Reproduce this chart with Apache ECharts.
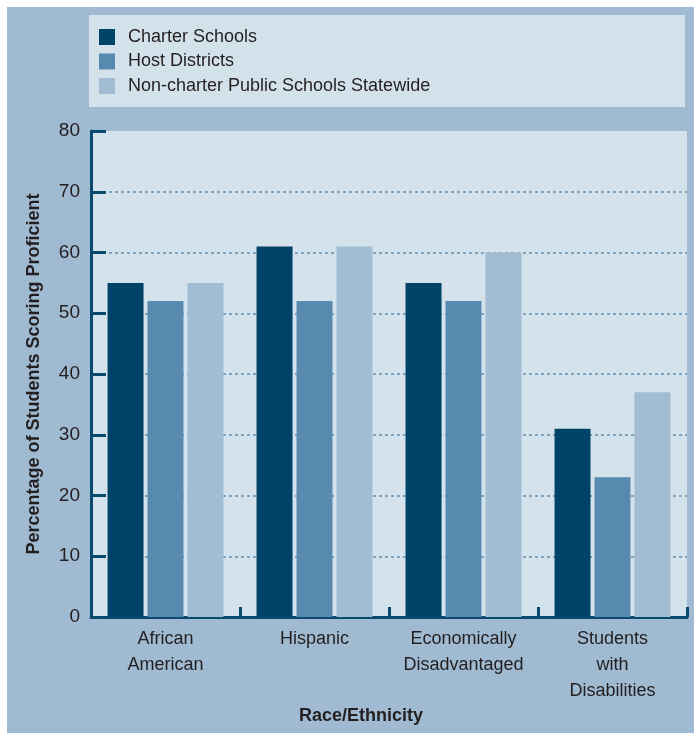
<!DOCTYPE html>
<html>
<head>
<meta charset="utf-8">
<style>
  html, body { margin: 0; padding: 0; background: #ffffff; }
  #main { width: 694px; height: 733px; }
</style>
<script src="https://cdn.jsdelivr.net/npm/echarts@6/dist/echarts.min.js"></script>
</head>
<body>
<div id="main"></div>
<script>
// data
var categories = ['African\nAmerican', 'Hispanic', 'Economically\nDisadvantaged', 'Students\nwith\nDisabilities'];
var charterSchools = [55, 61, 55, 31];
var hostDistricts = [52, 52, 52, 23];
var nonCharterStatewide = [55, 61, 60, 37];
var seriesNames = ['Charter Schools', 'Host Districts', 'Non-charter Public Schools Statewide'];

var FONT = '"Liberation Sans", Arial, sans-serif';
var AXIS_BLUE = '#0b4a6f';

var myChart = echarts.init(document.getElementById('main'));
var option = {
    backgroundColor: '#ffffff',
    color: ['#004369', '#578aae', '#a1bcd3'],
    textStyle: { fontFamily: FONT },
    graphic: [
        {   // outer panel
            type: 'rect', z: -10, silent: true,
            shape: { x: 7, y: 7, width: 687, height: 726 },
            style: { fill: '#9fbad1' }
        },
        {   // legend box
            type: 'rect', z: -9, silent: true,
            shape: { x: 89, y: 15, width: 596, height: 92 },
            style: { fill: '#d3e1ea' }
        },
        {
            type: 'text', silent: true,
            x: 361, y: 716,
            style: {
                text: 'Race/Ethnicity',
                font: 'bold 18px ' + FONT,
                fill: '#231f20',
                textAlign: 'center',
                textVerticalAlign: 'middle'
            }
        }
    ],
    legend: {
        orient: 'vertical',
        left: 99,
        top: 28,
        padding: 0,
        itemWidth: 16,
        itemHeight: 16,
        itemGap: 6.5,
        icon: 'rect',
        selectedMode: false,
        textStyle: {
            fontFamily: FONT,
            fontSize: 18,
            color: '#231f20',
            lineHeight: 16,
            padding: [0, 0, 0, 8]
        },
        data: seriesNames
    },
    grid: {
        left: 91,
        right: 7,
        top: 131,
        bottom: 116,
        show: true,
        backgroundColor: '#d4e2eb',
        borderWidth: 0,
        containLabel: false
    },
    xAxis: {
        type: 'category',
        data: categories,
        axisLine: { lineStyle: { color: AXIS_BLUE, width: 3 } },
        axisTick: {
            show: true, inside: true, length: 10, interval: 0,
            lineStyle: { color: AXIS_BLUE, width: 3 }
        },
        axisLabel: {
            interval: 0,
            color: '#231f20',
            fontFamily: FONT,
            fontSize: 18,
            lineHeight: 26,
            margin: 9
        }
    },
    yAxis: {
        type: 'value',
        min: 0,
        max: 80,
        interval: 10,
        name: 'Percentage of Students Scoring Proficient',
        nameLocation: 'middle',
        nameGap: 48,
        nameTextStyle: {
            fontFamily: FONT,
            fontSize: 18,
            fontWeight: 'bold',
            color: '#231f20'
        },
        axisLine: { show: true, lineStyle: { color: AXIS_BLUE, width: 3 } },
        axisTick: {
            show: true, inside: true, length: 15,
            lineStyle: { color: AXIS_BLUE, width: 3 }
        },
        axisLabel: {
            color: '#231f20',
            fontFamily: FONT,
            fontSize: 19,
            margin: 11
        },
        splitLine: {
            show: true,
            showMaxLine: false,
            lineStyle: { color: '#5f8fb3', width: 1.5, type: [3, 3] }
        }
    },
    series: [
        { name: seriesNames[0], type: 'bar', data: charterSchools, barWidth: 36, barGap: '11%' },
        { name: seriesNames[1], type: 'bar', data: hostDistricts, barWidth: 36, barGap: '11%' },
        { name: seriesNames[2], type: 'bar', data: nonCharterStatewide, barWidth: 36, barGap: '11%' }
    ]
};
myChart.setOption(option);
</script>
</body>
</html>
